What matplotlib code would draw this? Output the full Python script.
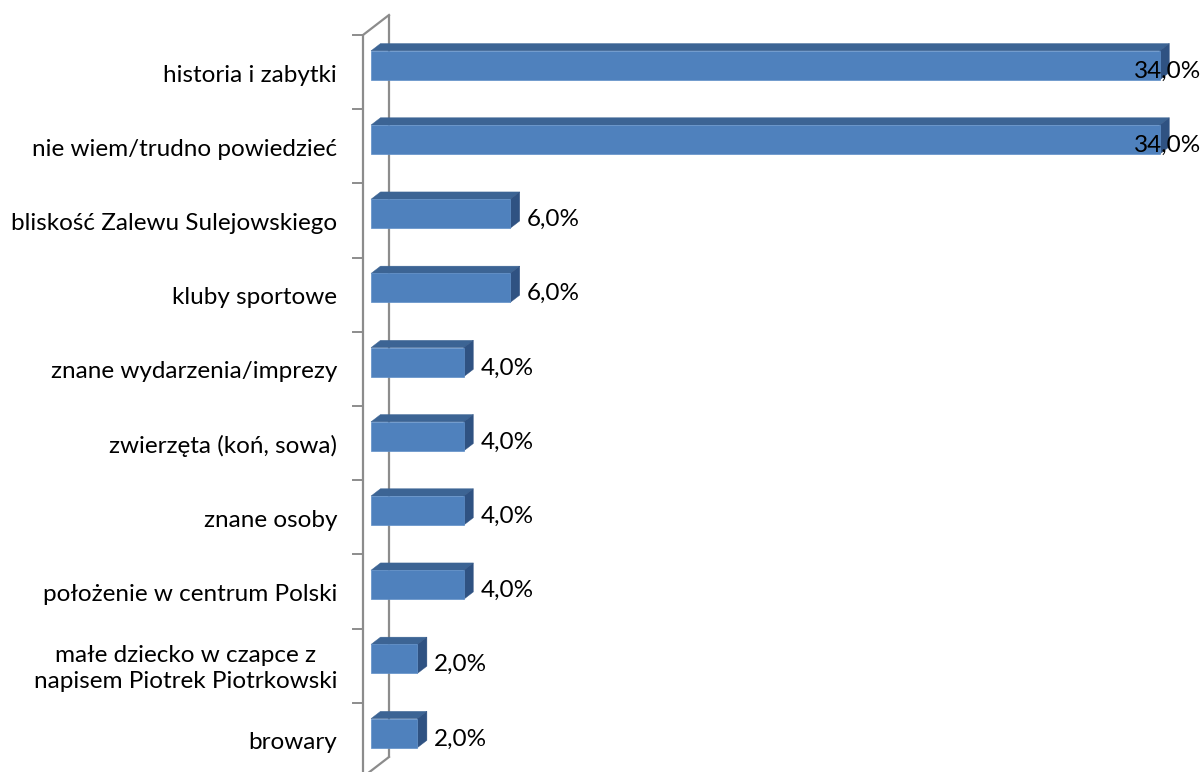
import matplotlib
matplotlib.use("Agg")
import matplotlib.pyplot as plt
from matplotlib.patches import Polygon

categories = [
    "historia i zabytki",
    "nie wiem/trudno powiedzieć",
    "bliskość Zalewu Sulejowskiego",
    "kluby sportowe",
    "znane wydarzenia/imprezy",
    "zwierzęta (koń, sowa)",
    "znane osoby",
    "położenie w centrum Polski",
    "małe dziecko w czapce z\nnapisem Piotrek Piotrkowski",
    "browary",
]
values = [34.0, 34.0, 6.0, 6.0, 4.0, 4.0, 4.0, 4.0, 2.0, 2.0]
value_labels = ["34,0%", "34,0%", "6,0%", "6,0%", "4,0%", "4,0%", "4,0%", "4,0%", "2,0%", "2,0%"]

W, H = 1204, 772
fig = plt.figure(figsize=(W / 100, H / 100), dpi=100)
ax = fig.add_axes([0, 0, 1, 1])
ax.axis("off")

# layout constants (pixels)
X0 = 363.0          # front wall x
PXV = 23.2          # px per percent
Y0 = 35.0           # top of front wall
PXC = 74.2          # px per category
DX, DY = 26.0, -20.0  # depth vector of the walls
FS = 17.5

def dx(px):
    return px / PXV

def dy(px):
    return px / PXC

ax.set_xlim(-X0 / PXV, (W - X0) / PXV)
ymin = -(Y0 / PXC) - 0.5
ax.set_ylim(ymin + H / PXC, ymin)

n = len(categories)
wall_c = "#8c8c8c"
top_front = (0, -0.5)
bot_front = (0, n - 0.5)
top_back = (dx(DX), -0.5 + dy(DY))
bot_back = (dx(DX), n - 0.5 + dy(DY))
ax.plot([top_front[0], bot_front[0]], [top_front[1], bot_front[1]], color=wall_c, lw=1.6, solid_capstyle="butt")
ax.plot([top_back[0], bot_back[0]], [top_back[1], bot_back[1]], color=wall_c, lw=1.6, solid_capstyle="butt")
ax.plot([top_front[0], top_back[0]], [top_front[1], top_back[1]], color=wall_c, lw=1.6)
ax.plot([bot_front[0], bot_back[0]], [bot_front[1], bot_back[1]], color=wall_c, lw=1.6)
for k in range(n + 1):
    ax.plot([-dx(10), 0], [k - 0.5, k - 0.5], color=wall_c, lw=1.4)

# bars
front_c = "#4f81bd"
top_c = "#3c6494"
side_c = "#2f5282"
a = 8.0 / DX      # front face depth fraction
b = 17.5 / DX     # back face depth fraction
bh = 29.0 / PXC   # bar height
for i, v in enumerate(values):
    fx0 = dx(DX * a)
    fy = i + dy(DY * a) - dy(0.6)
    fx1 = fx0 + v
    ytop, ybot = fy - bh / 2, fy + bh / 2
    ddx = dx(DX * (b - a))
    ddy = dy(DY * (b - a))
    front = Polygon([(fx0, ytop), (fx1, ytop), (fx1, ybot), (fx0, ybot)],
                    closed=True, facecolor=front_c, edgecolor="#5f8fc8", lw=0.5, zorder=3)
    top = Polygon([(fx0, ytop), (fx1, ytop), (fx1 + ddx, ytop + ddy), (fx0 + ddx, ytop + ddy)],
                  closed=True, facecolor=top_c, edgecolor=top_c, lw=0.3, zorder=3)
    side = Polygon([(fx1, ytop), (fx1 + ddx, ytop + ddy), (fx1 + ddx, ybot + ddy), (fx1, ybot)],
                   closed=True, facecolor=side_c, edgecolor=side_c, lw=0.3, zorder=3)
    for p in (top, side, front):
        ax.add_patch(p)
    lx = fx1 + ddx + dx(7)
    ly = i - dy(1)
    if lx + dx(75) > (W - X0) / PXV:
        ax.text((W - 3 - X0) / PXV, ly, value_labels[i], ha="right", va="center",
                fontsize=FS, family="Lato", color="#000000", zorder=5)
    else:
        ax.text(lx, ly, value_labels[i], ha="left", va="center",
                fontsize=FS, family="Lato", color="#000000", zorder=5)

# category labels
for i, c in enumerate(categories):
    ax.text(-dx(26), i + dy(3), c, ha="right", va="center", multialignment="center",
            fontsize=FS, family="Lato", color="#000000", linespacing=1.32)

fig.savefig("out.png", dpi=100, facecolor="white")
